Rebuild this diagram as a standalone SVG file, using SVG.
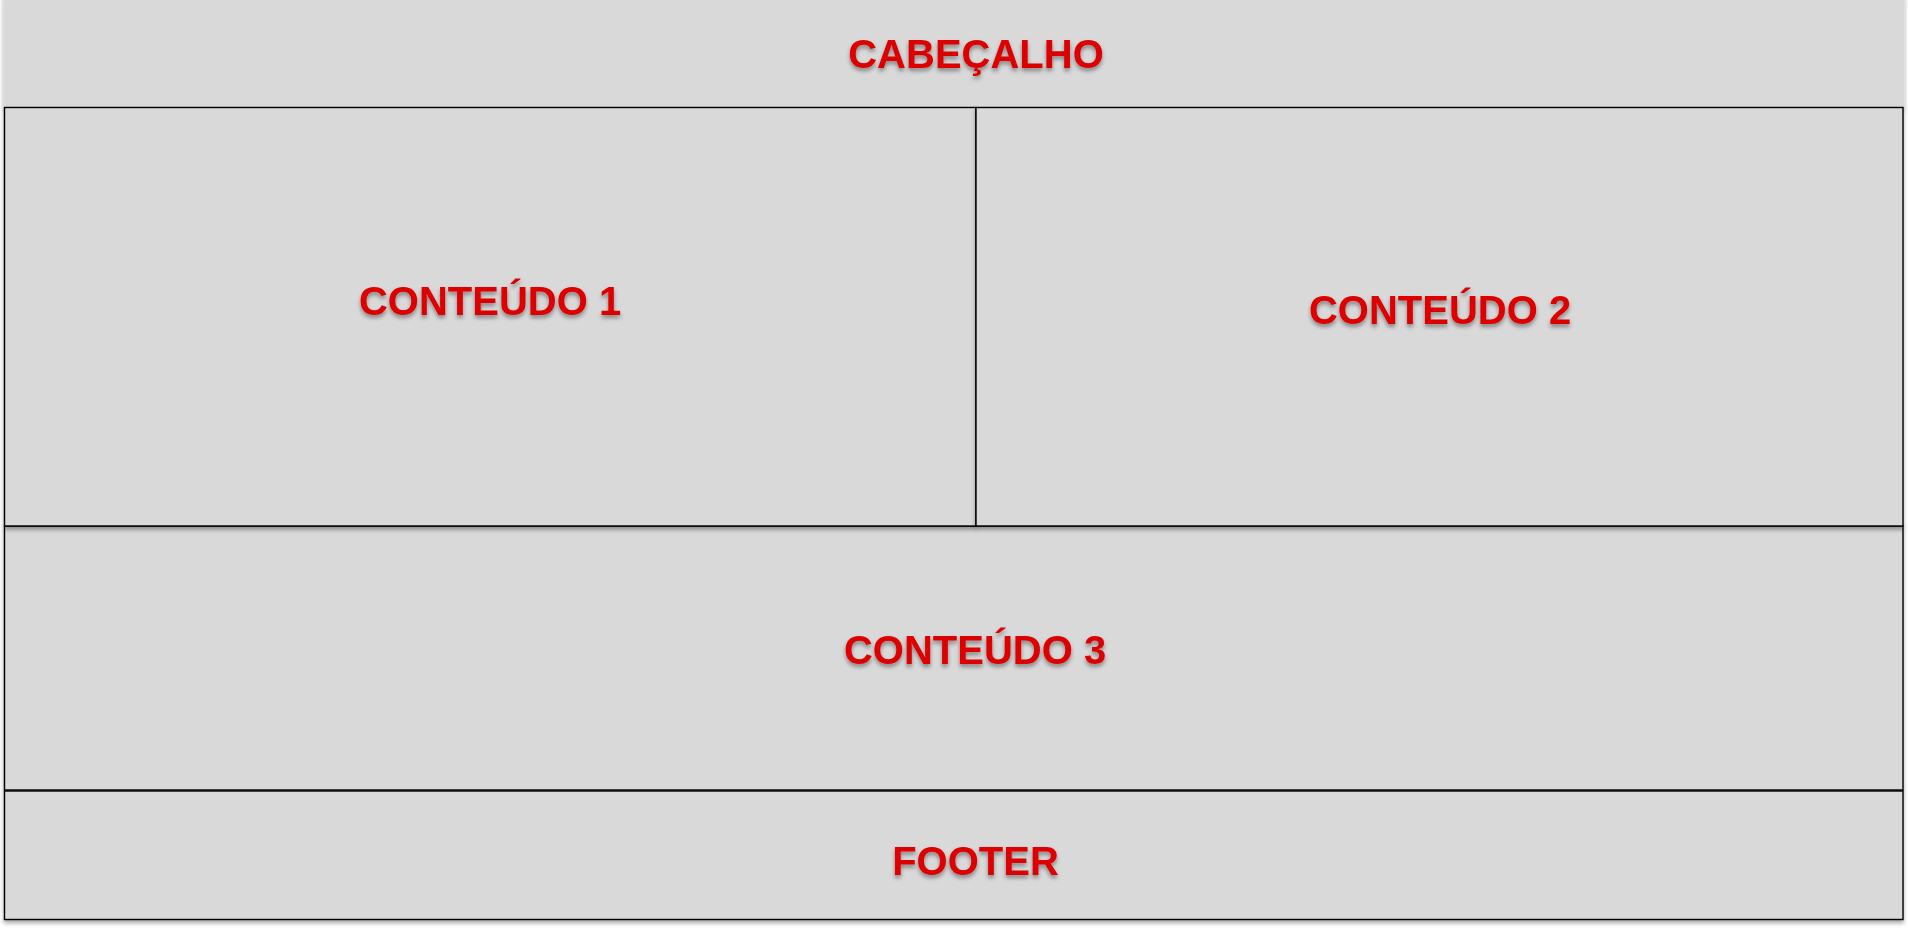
<svg xmlns="http://www.w3.org/2000/svg" width="1908" height="928" viewBox="0 0 1908 928">
  <defs>
    <filter id="boxShadow" x="-5%" y="-10%" width="110%" height="125%">
      <feDropShadow dx="0" dy="3" stdDeviation="2" flood-color="#000" flood-opacity="0.35"/>
    </filter>
    <filter id="textShadow" x="-10%" y="-30%" width="120%" height="170%">
      <feDropShadow dx="0" dy="3" stdDeviation="2" flood-color="#000" flood-opacity="0.4"/>
    </filter>
  </defs>
  <style>
    .box { fill: #D9D9D9; stroke: #000; stroke-width: 1.4; }
    .hdr { fill: #D9D9D9; }
    .lbl { font-family: "Liberation Sans", Arial, sans-serif; font-weight: bold; font-size: 40px; fill: #DD0000; text-anchor: middle; filter: url(#textShadow); }
  </style>
  <rect width="1908" height="928" fill="#FFFFFF"/>
  <g id="cabecalho">
    <rect class="hdr" x="3.5" y="-5" width="1901" height="113" filter="url(#boxShadow)"/>
    <text class="lbl" x="976" y="68">CABEÇALHO</text>
  </g>
  <g id="conteudo3">
    <rect class="box" x="4.5" y="526" width="1898.5" height="264" filter="url(#boxShadow)"/>
    <text class="lbl" x="975" y="664">CONTEÚDO 3</text>
  </g>
  <g id="conteudo1">
    <rect class="box" x="4.5" y="107.5" width="971.5" height="418.5" filter="url(#boxShadow)"/>
    <text class="lbl" x="490" y="315">CONTEÚDO 1</text>
  </g>
  <g id="conteudo2">
    <rect class="box" x="976" y="107.5" width="927" height="418.5" filter="url(#boxShadow)"/>
    <text class="lbl" x="1440" y="324">CONTEÚDO 2</text>
  </g>
  <g id="footer">
    <rect class="box" x="4.5" y="791" width="1898.5" height="128.5" filter="url(#boxShadow)"/>
    <text class="lbl" x="975.5" y="875">FOOTER</text>
  </g>
  <g id="connectors"></g>
</svg>
